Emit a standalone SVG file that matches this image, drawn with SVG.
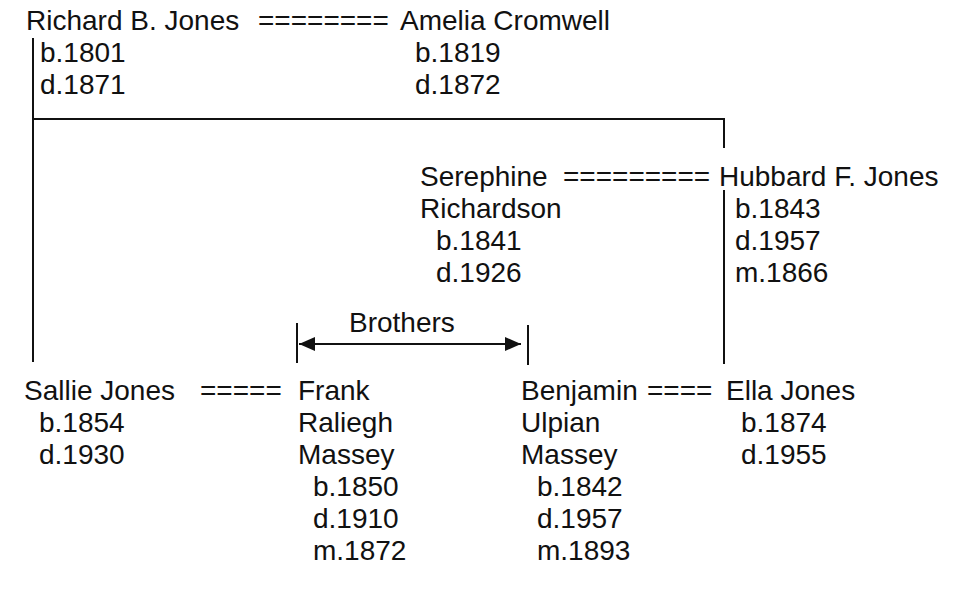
<svg xmlns="http://www.w3.org/2000/svg" width="960" height="596" viewBox="0 0 960 596">
<style>
text{font-family:"Liberation Sans",Arial,sans-serif;font-size:28px;fill:#111}
.ln{stroke:#111;stroke-width:2;fill:none}
</style>
<defs>
<marker id="ah" viewBox="0 0 16 14" refX="16" refY="7" markerWidth="16" markerHeight="14" markerUnits="userSpaceOnUse" orient="auto-start-reverse">
<path d="M0,0 L16,7 L0,14 Z" fill="#111"/>
</marker>
</defs>
<rect width="960" height="596" fill="#fff"/>
<g id="connectors">
<path class="ln" d="M33,38 V362"/>
<path class="ln" d="M33,119 H724 V148"/>
<path class="ln" d="M724,190 V364"/>
<path class="ln" d="M297,323 V363"/>
<path class="ln" d="M528,325 V365"/>
<path class="ln" d="M299,344 H521" marker-start="url(#ah)" marker-end="url(#ah)"/>
<text x="258" y="30">========</text>
<text x="563" y="186">=========</text>
<text x="200" y="400">=====</text>
<text x="647" y="400">====</text>
<text x="349" y="332">Brothers</text>
</g>
<g id="richard">
<text x="26" y="30">Richard B. Jones</text>
<text x="40" y="62">b.1801</text>
<text x="40" y="94">d.1871</text>
</g>
<g id="amelia">
<text x="400" y="30">Amelia Cromwell</text>
<text x="415" y="62">b.1819</text>
<text x="415" y="94">d.1872</text>
</g>
<g id="serephine">
<text x="420" y="186">Serephine</text>
<text x="420" y="218">Richardson</text>
<text x="436" y="250">b.1841</text>
<text x="436" y="282">d.1926</text>
</g>
<g id="hubbard">
<text x="719" y="186">Hubbard F. Jones</text>
<text x="735" y="218">b.1843</text>
<text x="735" y="250">d.1957</text>
<text x="735" y="282">m.1866</text>
</g>
<g id="sallie">
<text x="24" y="400">Sallie Jones</text>
<text x="39" y="432">b.1854</text>
<text x="39" y="464">d.1930</text>
</g>
<g id="frank">
<text x="298" y="400">Frank</text>
<text x="298" y="432">Raliegh</text>
<text x="298" y="464">Massey</text>
<text x="313" y="496">b.1850</text>
<text x="313" y="528">d.1910</text>
<text x="313" y="560">m.1872</text>
</g>
<g id="benjamin">
<text x="521" y="400">Benjamin</text>
<text x="521" y="432">Ulpian</text>
<text x="521" y="464">Massey</text>
<text x="537" y="496">b.1842</text>
<text x="537" y="528">d.1957</text>
<text x="537" y="560">m.1893</text>
</g>
<g id="ella">
<text x="726" y="400">Ella Jones</text>
<text x="741" y="432">b.1874</text>
<text x="741" y="464">d.1955</text>
</g>
</svg>
